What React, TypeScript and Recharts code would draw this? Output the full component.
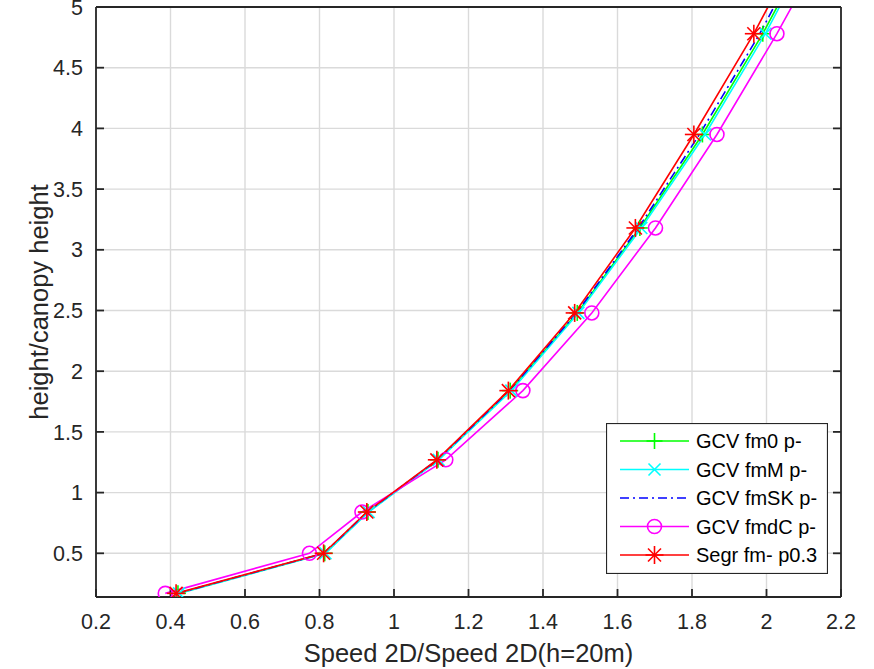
import {
  CartesianGrid,
  Legend,
  Line,
  LineChart,
  XAxis,
  YAxis,
} from 'recharts'

// height / canopy height for each measurement level (last one sits above the
// visible range and only shows as the clipped line segment at the top)
const HEIGHT_RATIO = [0.17, 0.5, 0.84, 1.27, 1.84, 2.48, 3.18, 3.95, 4.78, 5.7]

// normalised 2D speed per level, one array per run
const GCV_FM0 = [0.42, 0.814, 0.93, 1.118, 1.312, 1.492, 1.66, 1.828, 1.99, 2.15]
const GCV_FMM = [0.423, 0.816, 0.932, 1.12, 1.315, 1.495, 1.664, 1.835, 1.997, 2.155]
const GCV_FMSK = [0.418, 0.812, 0.928, 1.117, 1.31, 1.49, 1.656, 1.82, 1.982, 2.14]
const GCV_FMDC = [0.386, 0.773, 0.914, 1.139, 1.346, 1.531, 1.702, 1.867, 2.028, 2.193]
const SEGR_FM = [0.415, 0.811, 0.927, 1.115, 1.307, 1.485, 1.648, 1.805, 1.966, 2.125]

const X_TICKS = [0.2, 0.4, 0.6, 0.8, 1, 1.2, 1.4, 1.6, 1.8, 2, 2.2]
const Y_TICKS = [0.5, 1, 1.5, 2, 2.5, 3, 3.5, 4, 4.5, 5]
const X_DOMAIN: [number, number] = [0.2, 2.2]
const Y_DOMAIN: [number, number] = [0.14, 5]

type Marker = 'plus' | 'cross' | 'none' | 'circle' | 'star'

const SERIES: {
  key: string
  name: string
  color: string
  values: number[]
  marker: Marker
  dash?: string
}[] = [
  { key: 'fm0', name: 'GCV fm0 p-', color: '#00ff00', values: GCV_FM0, marker: 'plus' },
  { key: 'fmM', name: 'GCV fmM p-', color: '#00ffff', values: GCV_FMM, marker: 'cross' },
  { key: 'fmSK', name: 'GCV fmSK p-', color: '#0000ff', values: GCV_FMSK, marker: 'none', dash: '9 4 2 4' },
  { key: 'fmdC', name: 'GCV fmdC p-', color: '#ff00ff', values: GCV_FMDC, marker: 'circle' },
  { key: 'segr', name: 'Segr fm- p0.3', color: '#ff0000', values: SEGR_FM, marker: 'star' },
]

const FONT = '"Liberation Sans", Arial, sans-serif'
const AXIS_COLOR = '#262626'
const GRID_COLOR = '#dadada'

function MarkerGlyph({ kind, cx, cy, color }: { kind: Marker; cx: number; cy: number; color: string }) {
  const sw = 1.6
  if (kind === 'plus') {
    return (
      <g stroke={color} strokeWidth={sw}>
        <line x1={cx - 8} y1={cy} x2={cx + 8} y2={cy} />
        <line x1={cx} y1={cy - 8} x2={cx} y2={cy + 8} />
      </g>
    )
  }
  if (kind === 'cross') {
    return (
      <g stroke={color} strokeWidth={sw}>
        <line x1={cx - 6} y1={cy - 6} x2={cx + 6} y2={cy + 6} />
        <line x1={cx - 6} y1={cy + 6} x2={cx + 6} y2={cy - 6} />
      </g>
    )
  }
  if (kind === 'circle') {
    return <circle cx={cx} cy={cy} r={7} fill="none" stroke={color} strokeWidth={sw} />
  }
  if (kind === 'star') {
    return (
      <g stroke={color} strokeWidth={sw}>
        <line x1={cx - 9} y1={cy} x2={cx + 9} y2={cy} />
        <line x1={cx} y1={cy - 9} x2={cx} y2={cy + 9} />
        <line x1={cx - 6.5} y1={cy - 6.5} x2={cx + 6.5} y2={cy + 6.5} />
        <line x1={cx - 6.5} y1={cy + 6.5} x2={cx + 6.5} y2={cy - 6.5} />
      </g>
    )
  }
  return null
}

function makeDot(kind: Marker, color: string) {
  if (kind === 'none') return false
  return (props: any) => {
    const { cx, cy, index, payload } = props
    if (cx == null || cy == null || payload.y > Y_DOMAIN[1]) return <g key={`d-${index}`} />
    return (
      <g key={`d-${index}`}>
        <MarkerGlyph kind={kind} cx={cx} cy={cy} color={color} />
      </g>
    )
  }
}

function LegendBox() {
  const rowY = [18, 46.5, 75, 103.5, 132]
  return (
    <svg width={222} height={151} style={{ display: 'block' }}>
      <rect x={0.5} y={0.5} width={221} height={150} fill="#fff" stroke={AXIS_COLOR} strokeWidth={1.2} />
      {SERIES.map((s, i) => (
        <g key={s.key}>
          <line
            x1={14}
            y1={rowY[i]}
            x2={83}
            y2={rowY[i]}
            stroke={s.color}
            strokeWidth={1.6}
            strokeDasharray={s.dash}
          />
          <MarkerGlyph kind={s.marker} cx={48.5} cy={rowY[i]} color={s.color} />
          <text x={90} y={rowY[i] + 7} fontSize={20} fontFamily={FONT} fill="#000">
            {s.name}
          </text>
        </g>
      ))}
    </svg>
  )
}

export default function App() {
  const tickStyle = { fontSize: 21.5, fontFamily: FONT, fill: AXIS_COLOR }
  const labelStyle = { fontSize: 25.5, fontFamily: FONT, fill: AXIS_COLOR }
  return (
    <div style={{ position: 'absolute', left: 0, top: 0, width: 874, height: 669, background: '#fff' }}>
      <LineChart width={874} height={669} margin={{ top: 0, right: 0, bottom: 0, left: 0 }}>
        <CartesianGrid stroke={GRID_COLOR} strokeWidth={1.4} />
        <XAxis
          type="number"
          dataKey="x"
          domain={X_DOMAIN}
          ticks={X_TICKS}
          interval={0}
          height={72}
          stroke={AXIS_COLOR}
          strokeWidth={1.8}
          tickSize={-8}
          tickMargin={25}
          tick={tickStyle}
          allowDataOverflow
          label={{ value: 'Speed 2D/Speed 2D(h=20m)', position: 'insideBottom', offset: 7, style: labelStyle }}
        />
        <XAxis
          xAxisId="top"
          orientation="top"
          type="number"
          domain={X_DOMAIN}
          ticks={X_TICKS}
          interval={0}
          height={7}
          stroke={AXIS_COLOR}
          strokeWidth={1.8}
          tickSize={-8}
          tickFormatter={() => ''}
          allowDataOverflow
        />
        <YAxis
          type="number"
          dataKey="y"
          domain={Y_DOMAIN}
          ticks={Y_TICKS}
          interval={0}
          width={96}
          stroke={AXIS_COLOR}
          strokeWidth={1.8}
          tickSize={-8}
          tickMargin={21}
          tick={tickStyle}
          allowDataOverflow
          label={{
            value: 'height/canopy height',
            angle: -90,
            position: 'insideLeft',
            offset: 39,
            style: { ...labelStyle, textAnchor: 'middle' },
          }}
        />
        <YAxis
          yAxisId="right"
          orientation="right"
          type="number"
          domain={Y_DOMAIN}
          ticks={Y_TICKS}
          interval={0}
          width={33}
          stroke={AXIS_COLOR}
          strokeWidth={1.8}
          tickSize={-8}
          tickFormatter={() => ''}
          allowDataOverflow
        />
        {SERIES.map((s) => (
          <Line
            key={s.key}
            data={s.values.map((x, i) => ({ x, y: HEIGHT_RATIO[i] }))}
            dataKey="y"
            name={s.name}
            type="linear"
            stroke={s.color}
            strokeWidth={1.6}
            strokeDasharray={s.dash}
            dot={makeDot(s.marker, s.color)}
            activeDot={false}
            isAnimationActive={false}
          />
        ))}
        <Legend
          layout="horizontal"
          align="center"
          verticalAlign="middle"
          wrapperStyle={{ left: 606, top: 423, width: 222, height: 151 }}
          content={() => <LegendBox />}
        />
      </LineChart>
    </div>
  )
}
